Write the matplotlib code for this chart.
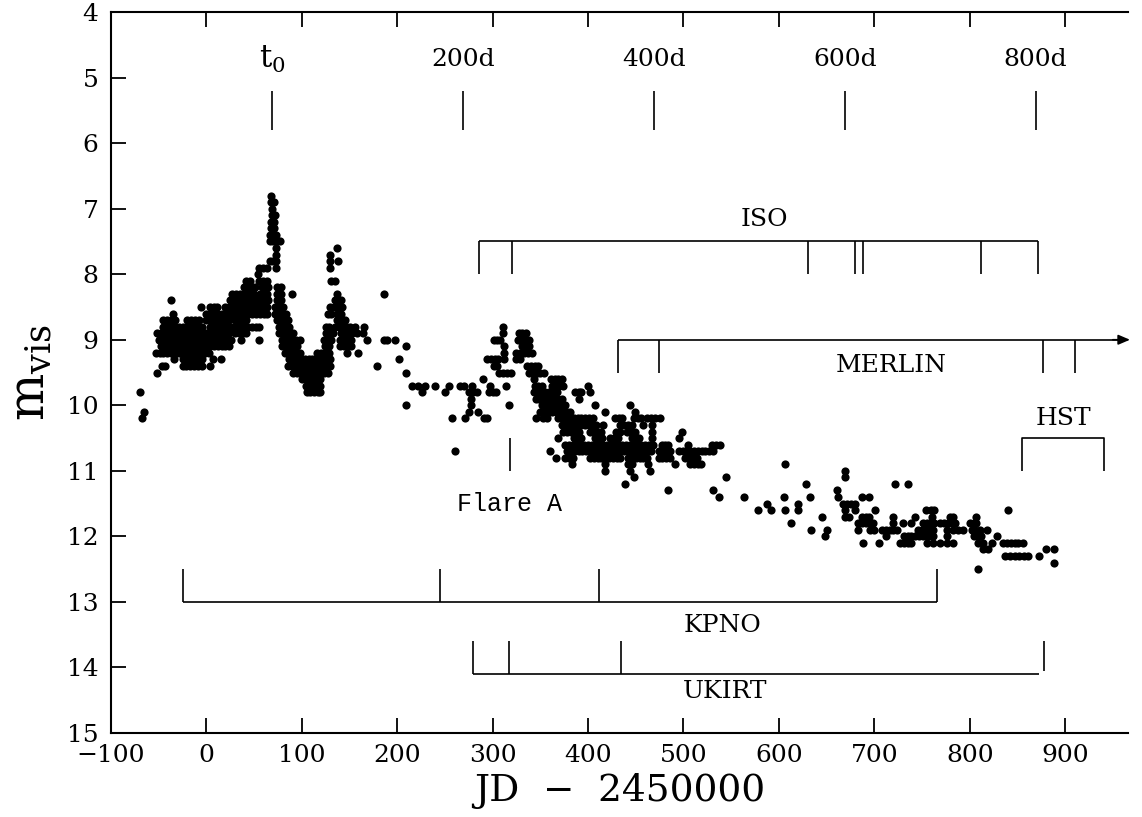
import matplotlib
matplotlib.use("Agg")
import matplotlib.pyplot as plt

plt.rcParams['font.family'] = ['DejaVu Serif']
plt.rcParams['mathtext.fontset'] = 'dejavuserif'

# ---------------- data (JD - 2450000, visual magnitude) ----------------
# Early phase, rows of equal magnitude: (mag, days)
early_mags = [9.8, 10.1, 10.2, 9.5, 9.4, 9.3, 9.2, 9.1, 9.0, 8.9, 8.8, 8.7, 8.6, 8.5, 8.4, 8.3, 8.2, 8.1, 8.0, 7.9]
early_days = [
    [-70], [-65], [-67], [-52],
    [-47, -43, -25, -21, -17, -13, -9, -5, 4],
    [-34, -25, -21, -17, -13, -9, -5, 7, 15],
    [-53, -49, -45, -41, -37, -33, -29, -25, -21, -17, -13, -9, -5, -1, 3],
    [-48, -44, -40, -36, -32, -28, -24, -20, -16, -12, -8, -4, 0, 4, 8, 12, 16, 20, 24],
    [-50, -46, -42, -38, -34, -30, -26, -22, -18, -14, -10, -6, -2, 2, 6, 10, 14, 18, 22, 26, 36, 55],
    [-52, -48, -44, -40, -36, -32, -28, -24, -20, -16, -12, -8, -4, 0, 4, 8, 12, 16, 20, 24, 30, 34, 38, 42],
    [-45, -41, -37, -33, -29, -25, -21, -17, -13, -9, -5, 4, 8, 12, 16, 20, 24, 28, 32, 36, 40, 44, 48, 52, 55],
    [-45, -41, -37, -33, -20, -16, -12, -8, 0, 4, 8, 12, 16, 20, 24, 30, 34, 38, 42],
    [-35, 0, 4, 8, 12, 16, 20, 24, 28, 32, 36, 40, 44, 48, 52, 56, 60, 64],
    [-6, 4, 8, 11, 20, 24, 28, 32, 36, 40, 44, 48, 52, 56, 60, 64],
    [-37, 25, 29, 33, 37, 41, 45, 49, 53, 57, 61, 65],
    [27, 31, 35, 39, 43, 47, 50, 56, 60, 64],
    [39, 43, 47, 51, 58, 62, 65],
    [42, 46, 55, 59, 63],
    [54],
    [55, 59, 63],
]

# Maximum (t0) and the following dip
peak_mags = [6.8, 6.9, 7.0, 7.1, 7.2, 7.3, 7.4, 7.5, 7.6, 7.7, 7.8, 7.9, 8.2, 8.3, 8.4, 8.5, 8.6,
             8.7, 8.8, 8.9, 9.0, 9.1, 9.2, 9.3, 9.4, 9.5, 9.6, 9.7, 9.8]
peak_days = [
    [68], [68, 71], [69], [69, 72], [68, 71], [68, 71], [67, 70, 73], [67, 70, 73, 77],
    [73], [73], [67, 70, 73], [73],
    [74, 78], [74, 78, 90], [74, 78], [72, 76, 80], [72, 76, 80, 83],
    [74, 78, 82, 85], [76, 80, 84, 87], [76, 80, 84, 88, 91], [79, 83, 87, 91, 94, 98],
    [79, 83, 87, 91, 95], [82, 86, 90, 94, 98],
    [87, 91, 95, 99, 103, 107, 111, 115, 119, 123, 127, 130],
    [86, 90, 94, 98, 102, 106, 110, 114, 118, 122, 126, 130],
    [91, 95, 99, 103, 107, 111, 115, 119, 123, 127],
    [100, 104, 108, 112, 116, 119],
    [104, 108, 112, 116, 119],
    [105, 109, 113, 117, 119],
]

# Second maximum
peak2_mags = [9.2, 9.1, 9.0, 8.9, 8.8, 8.7, 8.6, 8.5, 8.4, 8.3, 8.1, 7.9, 7.8, 7.7, 7.6]
peak2_days = [
    [116, 120, 124, 128, 147, 159],
    [124, 128, 140, 144, 148, 152],
    [123, 126, 131, 140, 144, 148, 152, 168],
    [125, 128, 133, 141, 145, 149, 153, 158, 164],
    [125, 128, 135, 139, 143, 147, 151, 156, 165],
    [137, 141, 145],
    [127, 131, 137, 141],
    [130, 134, 138, 142],
    [135, 138, 141],
    [137], [131, 135], [130], [130, 138], [130], [137],
]

# Sparse interval and Flare A (individual estimates)
mid_days = [179, 186, 186, 189, 198, 202, 209, 209, 209, 215, 222, 229, 226, 240, 250, 254, 257, 261,
            266, 270, 278, 275, 279, 284, 277, 277, 275, 285, 271, 291, 294,
            290, 297, 296, 300, 304, 294, 298, 302, 306, 312, 301, 305, 308, 311, 311, 312, 312,
            301, 305, 307, 311, 315, 319, 314, 317]
mid_mags = [9.4, 8.3, 9.0, 9.0, 9.0, 9.3, 9.1, 9.5, 10.0, 9.7, 9.7, 9.7, 9.8, 9.7, 9.8, 9.7, 10.2, 10.7,
            9.7, 9.7, 9.7, 9.8, 9.8, 9.8, 9.9, 10.0, 10.1, 10.1, 10.2, 10.2, 10.2,
            9.6, 9.7, 9.8, 9.8, 9.8, 9.3, 9.3, 9.3, 9.3, 9.3, 9.0, 9.0, 9.0, 8.8, 8.9, 9.1, 9.2,
            9.4, 9.4, 9.5, 9.5, 9.5, 9.5, 9.7, 10.0]

# Decline after Flare A, rows of equal magnitude
decl_mags = [8.9, 9.0, 9.1, 9.2, 9.3, 9.4, 9.5, 9.6, 9.7, 9.8, 9.9, 10.0, 10.1, 10.2, 10.3, 10.4,
             10.5, 10.6, 10.7, 10.8, 10.9, 11.0, 11.1, 11.2, 11.3, 11.4]
decl_days = [
    [328, 331, 335],
    [327, 331, 335, 338],
    [331, 335, 338],
    [325, 329, 333, 337, 341],
    [324, 329],
    [336, 340, 344, 348],
    [338, 342, 346, 350, 354],
    [343, 361, 365, 369, 373],
    [344, 348, 352, 362, 366, 370, 374, 400],
    [343, 347, 351, 355, 359, 363, 367, 386, 390, 393, 402],
    [345, 349, 353, 357, 361, 365, 369, 373, 391],
    [352, 356, 360, 364, 368, 372, 376, 407, 444],
    [350, 354, 358, 362, 366, 370, 374, 378, 381, 418, 449],
    [345, 353, 357, 369, 373, 377, 381, 385, 389, 393, 397, 401, 405, 428, 432, 436,
     448, 452, 455, 462, 466, 470, 475],
    [373, 377, 381, 385, 389, 393, 397, 401, 405, 408, 416, 434, 438, 442, 446, 458, 467],
    [374, 378, 382, 386, 390, 402, 406, 410, 414, 429, 433, 441, 445, 449, 467, 498],
    [369, 385, 389, 393, 407, 411, 415, 423, 427, 431, 446, 450, 453, 467, 495],
    [376, 380, 384, 388, 392, 396, 400, 404, 408, 412, 416, 420, 424, 428, 432, 436, 440,
     444, 448, 452, 456, 460, 464, 468, 477, 481, 484, 505, 530, 534, 538],
    [360, 378, 382, 386, 390, 394, 398, 402, 406, 410, 414, 418, 422, 426, 430, 434, 438,
     442, 446, 450, 454, 458, 462, 466, 474, 478, 482, 486, 495, 499, 503, 507, 511, 515,
     519, 523, 527, 531],
    [366, 376, 380, 384, 402, 406, 410, 414, 418, 422, 426, 430, 434, 442, 446, 450, 454,
     458, 462, 474, 478, 482, 486, 502, 506, 510, 514],
    [383, 418, 442, 446, 463, 491, 507, 511, 515, 518],
    [418, 444, 465],
    [448, 545],
    [439],
    [484, 531],
    [537],
]

# Late phase (individual estimates)
late_days = [563, 578, 588, 592, 605, 606, 606, 613, 620, 620, 628, 633, 634, 645, 648, 650, 661, 662,
             669, 669, 667, 671, 676, 680, 669, 680, 669, 674, 687, 694, 687, 691, 694, 683, 687, 691,
             695, 699, 683, 696, 700, 688, 705, 701, 722, 735,
             708, 712, 716, 720, 724, 712, 720, 720, 730, 731, 735, 739, 743, 747, 751, 755, 759,
             727, 731, 735, 739, 743, 739, 746, 754, 751,
             759, 763, 760, 755, 759, 763, 750, 754, 758, 762, 762, 755, 762,
             779, 783, 769, 773, 777, 781, 785, 776, 783, 788, 793, 776, 769, 776, 783,
             800, 804, 807, 807, 802, 806, 811, 804, 808, 812, 809, 814, 814, 819, 818, 823, 829,
             840, 835, 839, 843, 847, 851, 856, 837, 842, 847, 852, 857, 861, 873, 880, 888, 888, 809]
late_mags = [11.4, 11.6, 11.5, 11.6, 11.4, 11.6, 10.9, 11.8, 11.5, 11.6, 11.2, 11.4, 11.9, 11.7, 12.0,
             11.9, 11.3, 11.4, 11.0, 11.1, 11.5, 11.5, 11.5, 11.5, 11.6, 11.6, 11.7, 11.7, 11.4, 11.4,
             11.7, 11.7, 11.7, 11.8, 11.8, 11.8, 11.8, 11.8, 11.9, 11.9, 11.9, 12.1, 12.1, 11.6, 11.2, 11.2,
             11.9, 11.9, 11.9, 11.9, 11.9, 12.0, 11.7, 11.8, 11.8, 12.0, 12.0, 12.0, 12.0, 12.0, 12.0,
             12.0, 12.0, 12.1, 12.1, 12.1, 12.1, 11.7, 11.8, 11.9, 11.6, 11.8,
             11.6, 11.6, 11.7, 11.8, 11.8, 11.8, 11.9, 11.9, 11.9, 11.9, 12.0, 12.1, 12.1,
             11.7, 11.7, 11.8, 11.8, 11.8, 11.8, 11.8, 11.9, 11.9, 11.9, 11.9, 12.0, 12.1, 12.1, 12.1,
             11.8, 11.8, 11.8, 11.7, 11.9, 11.9, 11.9, 12.0, 12.0, 12.0, 12.1, 12.1, 12.2, 12.2, 11.9,
             12.1, 12.0, 11.6, 12.1, 12.1, 12.1, 12.1, 12.1, 12.1, 12.3, 12.3, 12.3, 12.3, 12.3, 12.3,
             12.3, 12.2, 12.2, 12.4, 12.5]

# Annotations
epoch_labels = ["t$_0$", "200d", "400d", "600d", "800d"]
epoch_days = [69, 269, 469, 669, 869]
iso_ticks = [286, 320, 631, 680, 688, 812, 872]
merlin_ticks = [431, 474, 877, 910]
kpno_ticks = [-25, 245, 411, 766]
ukirt_ticks = [279, 317, 435, 878]
ukirt_end = 873
hst_span = [855, 941]
flare_a = 318


def rows_to_xy(mags, days):
    xs, ys = [], []
    for m, ds in zip(mags, days):
        for d in ds:
            xs.append(d)
            ys.append(m)
    return xs, ys


fig = plt.figure(figsize=(11.42, 8.17), dpi=100)
ax = fig.add_axes([0.0972, 0.1028, 0.8906, 0.8825])

ms = 5.9
for mags, days in [(early_mags, early_days), (peak_mags, peak_days), (peak2_mags, peak2_days),
                   (decl_mags, decl_days)]:
    x, y = rows_to_xy(mags, days)
    ax.plot(x, y, 'o', color='black', ms=ms, mec='none')
ax.plot(mid_days, mid_mags, 'o', color='black', ms=ms, mec='none')
ax.plot(late_days, late_mags, 'o', color='black', ms=ms, mec='none')

lw = 1.2
k = dict(color='black', lw=lw, solid_capstyle='butt')
fs = 18

# epoch markers
for d, lab in zip(epoch_days, epoch_labels):
    ax.plot([d, d], [5.2, 5.8], **k)
    ax.text(d, 4.72, lab, ha='center', va='center', fontsize=fs + (4 if lab.startswith('t') else 0))

# ISO
ax.plot([iso_ticks[0], iso_ticks[-1]], [7.5, 7.5], **k)
for d in iso_ticks:
    ax.plot([d, d], [7.5, 8.0], **k)
ax.text(585, 7.17, 'ISO', ha='center', va='center', fontsize=fs)

# MERLIN
ax.plot([merlin_ticks[0], 960], [9.0, 9.0], **k)
for d in merlin_ticks:
    ax.plot([d, d], [9.0, 9.5], **k)
ax.annotate('', xy=(968, 9.0), xytext=(950, 9.0), annotation_clip=False,
            arrowprops=dict(arrowstyle='-|>,head_length=0.7,head_width=0.3', color='black', lw=lw,
                            shrinkA=0, shrinkB=0))
ax.text(718, 9.4, 'MERLIN', ha='center', va='center', fontsize=fs)

# HST
ax.plot([hst_span[0], hst_span[0], hst_span[1], hst_span[1]], [11.0, 10.5, 10.5, 11.0], **k)
ax.text(898, 10.2, 'HST', ha='center', va='center', fontsize=fs)

# Flare A
ax.plot([flare_a, flare_a], [10.5, 11.0], **k)
ax.text(318, 11.5, 'Flare A', ha='center', va='center', fontsize=fs,
        family=['Liberation Mono', 'DejaVu Sans Mono'])

# KPNO
ax.plot([kpno_ticks[0], kpno_ticks[-1]], [13.0, 13.0], **k)
for d in kpno_ticks:
    ax.plot([d, d], [12.5, 13.0], **k)
ax.text(541, 13.36, 'KPNO', ha='center', va='center', fontsize=fs)

# UKIRT
ax.plot([ukirt_ticks[0], ukirt_end], [14.1, 14.1], **k)
for d in ukirt_ticks[:-1]:
    ax.plot([d, d], [13.6, 14.1], **k)
ax.plot([ukirt_ticks[-1], ukirt_ticks[-1]], [13.6, 14.05], **k)
ax.text(544, 14.36, 'UKIRT', ha='center', va='center', fontsize=fs)

ax.set_xlim(-100, 966)
ax.set_ylim(15, 4)
ax.set_xticks(range(-100, 901, 100))
ax.set_xticklabels(['\u2212100'] + [str(v) for v in range(0, 901, 100)])
ax.set_yticks(range(4, 16))
ax.tick_params(direction='in', length=11, width=1.3, labelsize=18, top=True, right=False)
ax.tick_params(axis='x', pad=8)
ax.tick_params(axis='y', pad=9)
for s in ['left', 'bottom', 'top']:
    ax.spines[s].set_linewidth(1.5)
ax.spines['right'].set_visible(False)

ax.set_xlabel('JD  \u2212  2450000', fontsize=27, labelpad=4)
ax.set_ylabel(r'$\mathrm{m_{vis}}$', fontsize=36, labelpad=8)

fig.savefig('out.png', dpi=100)
